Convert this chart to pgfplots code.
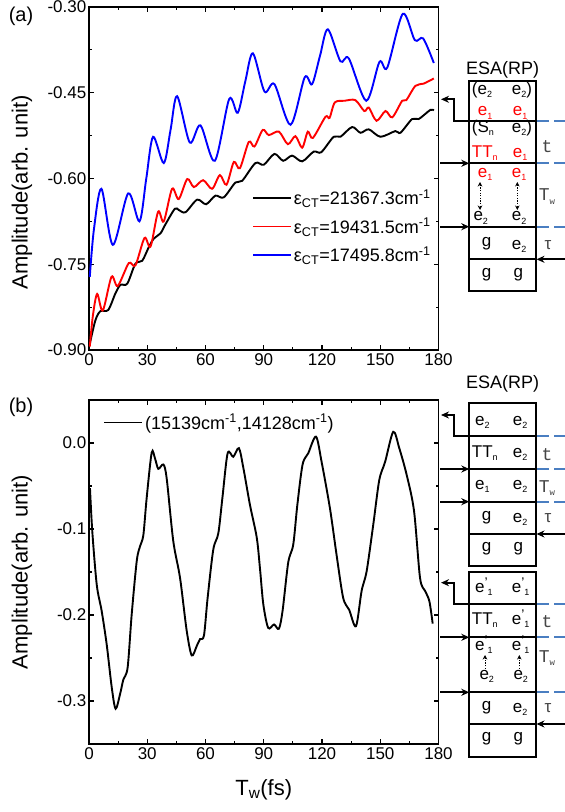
\documentclass[border=0pt]{standalone}
\usepackage{fontspec}
\setmainfont{Liberation Sans}
\newfontfamily\monofont{Liberation Mono}
\usepackage{pgfplots}
\pgfplotsset{compat=1.18}
\usetikzlibrary{arrows.meta}

\definecolor{dashblue}{RGB}{74,126,193}
\definecolor{lblgray}{RGB}{70,70,70}

% small subscripts used in the diagrams
\newcommand\sub[1]{\raisebox{-0.35ex}{\fontsize{9}{9}\selectfont #1}}
\newcommand\ep[1]{e\rlap{\raisebox{0.55ex}{\fontsize{14}{14}\selectfont ’}}\raisebox{-0.35ex}{\fontsize{9}{9}\selectfont\,\,#1}}

\pgfplotsset{
  panel/.style={
    scale only axis,
    width=349.5pt,
    xmin=0, xmax=180,
    xtick={0,30,...,180},
    minor x tick num=1,
    minor y tick num=1,
    tick align=inside,
    tick pos=both,
    major tick length=5pt,
    minor tick length=3pt,
    axis line style={line width=1.3pt},
    every tick/.style={line width=1.1pt, black},
    tick label style={font=\fontsize{17}{20}\selectfont},
    /pgf/number format/assume math mode=true,
    xticklabel style={inner sep=3.5pt},
    yticklabel style={inner sep=2.5pt},
    every axis y label/.style={at={(axis description cs:-0.192,0.5)}, rotate=90,
      anchor=center, font=\fontsize{22}{24}\selectfont},
    every axis x label/.style={at={(axis description cs:0.5,-0.134)},
      anchor=center, font=\fontsize{22}{24}\selectfont},
    legend cell align=left,
    legend style={draw=none, fill=none, font=\fontsize{18}{20}\selectfont,
      inner sep=0pt, row sep=8pt},
    legend image code/.code={\draw[#1, line width=1.9pt] (0pt,0pt) -- (38pt,0pt);},
    every axis plot/.append style={line width=1.9pt, smooth, tension=0.5},
  },
}

\begin{document}
\begin{tikzpicture}
\useasboundingbox (0,0) rectangle (565pt,812pt);

% ---------- panel (a)
\begin{axis}[panel, at={(89pt,462pt)}, anchor=south west, height=343pt,
  ymin=-0.9, ymax=-0.3, ytick={-0.9,-0.75,-0.6,-0.45,-0.3},
  yticklabel style={/pgf/number format/.cd, fixed, fixed zerofill, precision=2},
  ylabel={Amplitude(arb. unit)},
  every axis y label/.append style={at={(axis description cs:-0.192,0.46)}},
  legend style={at={(0.466,0.4735)}, anchor=north west}]
\addplot[black] coordinates {
(0.3,-0.891) (3.3,-0.848) (5.9,-0.832) (9.9,-0.830) (13.6,-0.801) (16.2,-0.786)
(19.7,-0.784) (23.9,-0.749) (27.4,-0.744) (30.8,-0.720) (33.4,-0.705) (36.8,-0.696)
(39.4,-0.680) (44.2,-0.653) (46.2,-0.655) (49.7,-0.659) (55.7,-0.637) (60.3,-0.645)
(65.1,-0.630) (69.4,-0.633) (75.4,-0.607) (78.9,-0.604) (85.7,-0.573) (90,-0.576)
(95.5,-0.557) (100,-0.569) (104.6,-0.560) (109.8,-0.570) (115.7,-0.553) (119.6,-0.554)
(126,-0.527) (129.5,-0.527) (135.5,-0.510) (139.8,-0.520) (144.1,-0.514) (150.1,-0.527)
(157.8,-0.517) (160.4,-0.520) (166.4,-0.496) (169.8,-0.496) (175.8,-0.480) (177.6,-0.481)
};
\addlegendentry{ε\textsubscript{CT}=21367.3cm\textsuperscript{-1}}
\addplot[red] coordinates {
(0.4,-0.894) (2,-0.84) (4.2,-0.802) (7.1,-0.831) (11.6,-0.772) (14.8,-0.788)
(20.5,-0.748) (23.9,-0.752) (28.6,-0.704) (31.7,-0.719) (35.6,-0.658) (38.5,-0.675)
(42.8,-0.618) (46.2,-0.636) (50.6,-0.601) (54,-0.615) (58.8,-0.603) (63.4,-0.618)
(67.4,-0.594) (70.8,-0.611) (74.6,-0.571) (77.7,-0.582) (82.3,-0.536) (85.2,-0.544)
(89.5,-0.515) (92.6,-0.524) (97.8,-0.518) (102.4,-0.540) (106.3,-0.526) (109.8,-0.546)
(112.7,-0.518) (115.3,-0.529) (121.8,-0.492) (123.9,-0.494) (126.6,-0.467) (131.7,-0.464)
(137.2,-0.463) (141.8,-0.482) (144.1,-0.476) (148.1,-0.499) (152.7,-0.482) (156.2,-0.493)
(161.3,-0.464) (163.4,-0.463) (168.1,-0.438) (172.4,-0.434) (177.6,-0.425)
};
\addlegendentry{ε\textsubscript{CT}=19431.5cm\textsuperscript{-1}}
\addplot[blue] coordinates {
(0.4,-0.772) (2.5,-0.69) (6.4,-0.618) (12.3,-0.716) (20.2,-0.626) (26,-0.675)
(29.5,-0.60) (33,-0.527) (38.5,-0.573) (42,-0.515) (45.4,-0.456) (51.9,-0.537)
(57.4,-0.507) (64.8,-0.569) (72.2,-0.461) (76.6,-0.485) (80.5,-0.43) (84.4,-0.381)
(90.4,-0.448) (95.5,-0.435) (103.8,-0.506) (111.1,-0.423) (114.9,-0.435) (119,-0.385)
(123,-0.339) (129.5,-0.395) (133.8,-0.390) (142.8,-0.464) (149.6,-0.396) (153.6,-0.406)
(161.6,-0.312) (167.8,-0.358) (172.1,-0.355) (177.6,-0.398)
};
\addlegendentry{ε\textsubscript{CT}=17495.8cm\textsuperscript{-1}}
\end{axis}

% ---------- panel (b)
\begin{axis}[panel, at={(89pt,68pt)}, anchor=south west, height=344pt,
  ymin=-0.35, ymax=0.05, ytick={-0.3,-0.2,-0.1,0},
  yticklabel style={/pgf/number format/.cd, fixed, fixed zerofill, precision=1},
  ylabel={Amplitude(arb. unit)}, xlabel={T\textsubscript{w}(fs)},
  legend style={at={(0.04,0.965)}, anchor=north west}]
\addplot[black] coordinates {
(0.5,-0.0525) (1.7,-0.103) (4.0,-0.165) (6.5,-0.195) (9.1,-0.234) (11.7,-0.284)
(13.7,-0.309) (16,-0.292) (17.7,-0.275) (19.9,-0.261) (22,-0.199) (24.6,-0.137)
(26.3,-0.120) (28,-0.107) (29.7,-0.064) (32.3,-0.011) (34,-0.018) (35.7,-0.030)
(38.3,-0.025) (40,-0.041) (43.4,-0.114) (46.9,-0.157) (50.3,-0.218) (52.9,-0.247)
(55.5,-0.236) (57.2,-0.228) (59.2,-0.224) (61.1,-0.180) (64,-0.124) (66.6,-0.105)
(68.7,-0.064) (71.4,-0.012) (74.3,-0.016) (77.2,-0.006) (79.5,-0.029) (82.9,-0.072)
(86.4,-0.110) (88.1,-0.147) (89.8,-0.188) (92.3,-0.215) (95.3,-0.211) (97.8,-0.216)
(99.7,-0.195) (102.6,-0.139) (105.2,-0.118) (107.3,-0.072) (110,-0.025) (112.9,-0.012)
(116.9,0.0074) (119.8,-0.022) (124.1,-0.076) (127.5,-0.130) (130.9,-0.180) (134,-0.194)
(137.5,-0.213) (140.4,-0.172) (143,-0.149) (146.4,-0.095) (149.5,-0.043) (152.5,-0.022)
(156.7,0.013) (159.8,-0.006) (163.6,-0.037) (167.4,-0.079) (170.5,-0.157) (173.1,-0.172)
(175.3,-0.184) (177,-0.210)
};
\addlegendentry{(15139cm\textsuperscript{-1},14128cm\textsuperscript{-1})}
\end{axis}

% ---------- panel letters and pathway diagrams (pixel coordinates, y down)
\begin{scope}[x=1pt, y=-1pt, shift={(0pt,812pt)},
  box/.style={line width=2.3pt},
  arr/.style={line width=2pt, -{Stealth[length=8pt,width=7pt]}},
  dsh/.style={dashblue, line width=2pt, dash pattern=on 12pt off 5pt},
  txt/.style={anchor=mid west, inner sep=0pt, font=\fontsize{17}{17}\selectfont},
  lbl/.style={anchor=center, inner sep=0pt, text=lblgray, font=\fontsize{18}{18}\selectfont\monofont},
  dot/.style={line width=1pt, dash pattern=on 1.3pt off 1.3pt}]

\node[font=\fontsize{20}{20}\selectfont] at (21,16) {(a)};
\node[font=\fontsize{20}{20}\selectfont] at (21,407) {(b)};

% diagram (a)
\node[font=\fontsize{18}{18}\selectfont] at (502.7,70) {ESA(RP)};
\draw[box] (469.3,81) rectangle (536,290.7);
\foreach \yy in {120.7,163.3,226.7,259.3} \draw[box] (469.3,\yy) -- (536,\yy);
\foreach \yy in {120.7,163.3,226.7} \draw[dsh] (537.2,\yy) -- (565,\yy);
\draw[arr] (469.3,120.7) -- (454,120.7) -- (454,99.3) -- (441,99.3);
\draw[arr] (440,163.3) -- (469.3,163.3);
\draw[arr] (440,226.7) -- (469.3,226.7);
\draw[arr] (565,259.3) -- (536.5,259.3);
\node[txt] at (471.7,91.7) {(e\sub{2}};
\node[txt] at (511.7,91.7) {e\sub{2})};
\node[txt, text=red] at (477.7,113.3) {e\sub{1}};
\node[txt, text=red] at (512.7,113.3) {e\sub{1}};
\node[txt] at (471.7,130) {(S\sub{n}};
\node[txt] at (511.7,130) {e\sub{2})};
\node[txt, text=red] at (471.7,155) {TT\sub{n}};
\node[txt, text=red] at (512.7,155) {e\sub{1}};
\node[txt, text=red] at (477.7,175) {e\sub{1}};
\node[txt, text=red] at (511.7,175) {e\sub{1}};
\draw[dot, {Stealth[length=4.5pt,width=4.5pt]}-{Stealth[length=4.5pt,width=4.5pt]}] (480,182) -- (480,210);
\draw[dot, {Stealth[length=4.5pt,width=4.5pt]}-{Stealth[length=4.5pt,width=4.5pt]}] (517.3,182) -- (517.3,210);
\node[txt] at (473.3,218.3) {e\sub{2}};
\node[txt] at (511.7,218.3) {e\sub{2}};
\node[txt] at (481.7,244) {g};
\node[txt] at (511.7,246.7) {e\sub{2}};
\node[txt] at (481.7,275) {g};
\node[txt] at (513.3,275) {g};
\node[lbl] at (547,146.7) {t};
\node[lbl] at (547,196.7) {T\sub{w}};
\node[lbl, font=\fontsize{17}{17}\selectfont] at (548,245) {τ};

% diagram (b), upper
\node[font=\fontsize{18}{18}\selectfont] at (502.7,384) {ESA(RP)};
\draw[box] (469.3,403.3) rectangle (536,565.7);
\foreach \yy in {436,469,501.7,534} \draw[box] (469.3,\yy) -- (536,\yy);
\foreach \yy in {436,469,501.7} \draw[dsh] (537.2,\yy) -- (565,\yy);
\draw[arr] (469.3,436) -- (454,436) -- (454,415) -- (441,415);
\draw[arr] (440,469) -- (469.3,469);
\draw[arr] (440,501.7) -- (469.3,501.7);
\draw[arr] (565,534) -- (536.5,534);
\node[txt] at (475,423) {e\sub{2}};
\node[txt] at (512.7,423) {e\sub{2}};
\node[txt] at (471.7,455) {TT\sub{n}};
\node[txt] at (512.7,455) {e\sub{2}};
\node[txt] at (475,487) {e\sub{1}};
\node[txt] at (512.7,487) {e\sub{2}};
\node[txt] at (481.7,518) {g};
\node[txt] at (512.7,520) {e\sub{2}};
\node[txt] at (481.7,549) {g};
\node[txt] at (513.3,549) {g};
\node[lbl] at (547,455) {t};
\node[lbl] at (547,488) {T\sub{w}};
\node[lbl, font=\fontsize{17}{17}\selectfont] at (548,518) {τ};

% diagram (b), lower
\draw[box] (469.3,571.7) rectangle (536,757.3);
\foreach \yy in {604,637.3,692.3,724} \draw[box] (469.3,\yy) -- (536,\yy);
\foreach \yy in {604,637.3,692.3} \draw[dsh] (537.2,\yy) -- (565,\yy);
\draw[arr] (469.3,604) -- (454,604) -- (454,582.7) -- (441,582.7);
\draw[arr] (440,637.3) -- (469.3,637.3);
\draw[arr] (440,692.3) -- (469.3,692.3);
\draw[arr] (565,724) -- (536.5,724);
\node[txt] at (475,590) {\ep{1}};
\node[txt] at (511.7,590) {\ep{1}};
\node[txt] at (471.7,621.7) {TT\sub{n}};
\node[txt] at (511.7,621.7) {\ep{1}};
\node[txt] at (475,648) {\ep{1}};
\node[txt] at (511.7,648) {\ep{1}};
\draw[dot, -{Stealth[length=4.5pt,width=4.5pt]}] (485,671.5) -- (485,655);
\draw[dot, -{Stealth[length=4.5pt,width=4.5pt]}] (519.3,671.5) -- (519.3,655);
\node[txt] at (479.3,676.7) {e\sub{2}};
\node[txt] at (513.3,676.7) {e\sub{2}};
\node[txt] at (481.7,708) {g};
\node[txt] at (512.7,710) {e\sub{2}};
\node[txt] at (481.7,739) {g};
\node[txt] at (513.3,739) {g};
\node[lbl] at (547,621.7) {t};
\node[lbl] at (547,658.3) {T\sub{w}};
\node[lbl, font=\fontsize{17}{17}\selectfont] at (548,708.3) {τ};
\end{scope}
\end{tikzpicture}
\end{document}
